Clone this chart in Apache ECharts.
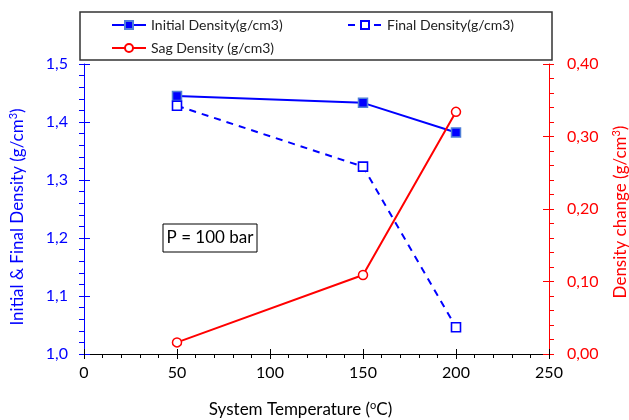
<!DOCTYPE html>
<html>
<head>
<meta charset="utf-8">
<script src="https://cdn.jsdelivr.net/npm/echarts@6/dist/echarts.min.js"></script>
<style>
  html, body { margin: 0; padding: 0; background: #fff; }
  #chart { width: 629px; height: 420px; }
</style>
</head>
<body>
<div id="chart"></div>
<script>
// System temperature (°C) at which the densities were measured
const temperatures = [50, 150, 200];
// Densities in g/cm3
const initialDensity = [1.445, 1.433, 1.382];
const finalDensity = [1.428, 1.323, 1.046];
const sagDensity = [0.016, 0.109, 0.334];

const seriesNames = ['Initial Density(g/cm3)', 'Final Density(g/cm3)', 'Sag Density (g/cm3)'];
const annotation = 'P = 100 bar';

const FONT = 'Lato';
const BLUE = '#0000ff';
const RED = '#ff0000';

const pairs = (xs, ys) => xs.map((x, i) => [x, ys[i]]);
const comma = (v, d) => v.toFixed(d).replace('.', ',');

const chart = echarts.init(document.getElementById('chart'), null, { renderer: 'canvas' });

const yBase = {
  type: 'value',
  splitLine: { show: false },
  minorSplitLine: { show: false }
};

chart.setOption({
  animation: false,
  textStyle: { fontFamily: FONT },
  grid: { left: 84, right: 80, top: 64, bottom: 66, containLabel: false, outerBoundsMode: 'none' },
  legend: [
    {
      data: [seriesNames[0], seriesNames[2]],
      orient: 'vertical',
      left: 111, top: 17,
      padding: 0,
      itemWidth: 34, itemHeight: 10, itemGap: 7,
      textStyle: { fontFamily: FONT, fontSize: 14, color: '#222', lineHeight: 16 }
    },
    {
      data: [seriesNames[1]],
      orient: 'vertical',
      left: 347, top: 17,
      padding: 0,
      itemWidth: 34, itemHeight: 10,
      textStyle: { fontFamily: FONT, fontSize: 14, color: '#222', lineHeight: 16 }
    }
  ],
  xAxis: [
    {
      type: 'value', min: 0, max: 250, interval: 50,
      axisLine: { show: true, onZero: false, lineStyle: { color: '#000', width: 1 } },
      axisTick: { show: true, inside: false, length: 5, lineStyle: { color: '#000' } },
      minorTick: { show: true, splitNumber: 5, length: 4, lineStyle: { color: '#000' } },
      axisLabel: { fontFamily: FONT, fontSize: 16, color: '#000', margin: 11 },
      splitLine: { show: false },
      name: 'System Temperature ({sup|o}C)',
      nameLocation: 'middle', nameGap: 46,
      nameTextStyle: {
        fontFamily: FONT, fontSize: 17, color: '#000', padding: [0, 32, 0, 0],
        rich: { sup: { fontFamily: FONT, fontSize: 11, color: '#000', padding: [0, 0, 9, 0] } }
      }
    },
    {
      type: 'value', min: 0, max: 250, interval: 50, position: 'bottom',
      axisLine: { show: false, onZero: false },
      axisTick: { show: true, inside: true, length: 5, lineStyle: { color: '#000' } },
      axisLabel: { show: false },
      splitLine: { show: false }
    }
  ],
  yAxis: [
    Object.assign({}, yBase, {
      min: 1.0, max: 1.5, interval: 0.1, position: 'left',
      axisLine: { show: true, onZero: false, lineStyle: { color: BLUE, width: 1 } },
      axisTick: { show: true, inside: false, length: 5, lineStyle: { color: BLUE } },
      minorTick: { show: true, splitNumber: 5, length: 5, lineStyle: { color: BLUE } },
      axisLabel: { fontFamily: FONT, fontSize: 16, color: BLUE, margin: 16, formatter: v => comma(v, 1) },
      name: 'Initial & Final Density (g/cm{sup|3})',
      nameLocation: 'middle', nameRotate: 90, nameGap: 56,
      nameTextStyle: {
        fontFamily: FONT, fontSize: 17, color: BLUE, padding: [0, 16, 0, 0],
        rich: { sup: { fontFamily: FONT, fontSize: 11, color: BLUE, padding: [0, 0, 9, 0] } }
      }
    }),
    Object.assign({}, yBase, {
      min: 0, max: 0.4, interval: 0.1, position: 'right',
      axisLine: { show: true, onZero: false, lineStyle: { color: RED, width: 1 } },
      axisTick: { show: true, inside: false, length: 5, lineStyle: { color: RED } },
      minorTick: { show: true, splitNumber: 5, length: 5, lineStyle: { color: RED } },
      axisLabel: { fontFamily: FONT, fontSize: 16, color: RED, margin: 18, formatter: v => comma(v, 2) },
      name: 'Density change (g/cm{sup|3})',
      nameLocation: 'middle', nameRotate: 90, nameGap: 62,
      nameTextStyle: {
        fontFamily: FONT, fontSize: 17, color: RED, padding: [0, 6, 0, 0],
        rich: { sup: { fontFamily: FONT, fontSize: 11, color: RED, padding: [0, 0, 9, 0] } }
      }
    }),
    Object.assign({}, yBase, {
      min: 1.0, max: 1.5, interval: 0.1, position: 'left',
      axisLine: { show: false, onZero: false },
      axisTick: { show: true, inside: true, length: 6, lineStyle: { color: BLUE } },
      axisLabel: { show: false }
    }),
    Object.assign({}, yBase, {
      min: 0, max: 0.4, interval: 0.1, position: 'right',
      axisLine: { show: false, onZero: false },
      axisTick: { show: true, inside: true, length: 6, lineStyle: { color: RED } },
      axisLabel: { show: false }
    })
  ],
  series: [
    {
      name: seriesNames[0], type: 'line', xAxisIndex: 0, yAxisIndex: 0,
      data: pairs(temperatures, initialDensity),
      symbol: 'rect', symbolSize: 9,
      lineStyle: { color: BLUE, width: 2 },
      itemStyle: { color: BLUE, borderColor: '#4f7fd8', borderWidth: 1.5 },
      z: 3
    },
    {
      name: seriesNames[1], type: 'line', xAxisIndex: 0, yAxisIndex: 0,
      data: pairs(temperatures, finalDensity),
      symbol: 'rect', symbolSize: 9,
      lineStyle: { color: BLUE, width: 2, type: [7, 6] },
      itemStyle: { color: '#fff', borderColor: BLUE, borderWidth: 1.6 },
      z: 3
    },
    {
      name: seriesNames[2], type: 'line', xAxisIndex: 0, yAxisIndex: 1,
      data: pairs(temperatures, sagDensity),
      symbol: 'circle', symbolSize: 9,
      lineStyle: { color: RED, width: 2 },
      itemStyle: { color: '#fff', borderColor: RED, borderWidth: 1.5 },
      z: 3
    }
  ],
  graphic: [
    {
      type: 'rect', silent: true, z: 0,
      shape: { x: 80, y: 12, width: 472, height: 48 },
      style: { fill: 'none', stroke: '#333', lineWidth: 1.5 }
    },
    {
      type: 'rect', silent: true,
      shape: { x: 163, y: 224, width: 94, height: 28 },
      style: { fill: '#fff', stroke: '#000', lineWidth: 1 }
    },
    {
      type: 'text', silent: true,
      x: 210, y: 238,
      style: { text: annotation, fontFamily: FONT, fontSize: 17, fill: '#000', align: 'center', verticalAlign: 'middle' }
    }
  ]
});
</script>
</body>
</html>
